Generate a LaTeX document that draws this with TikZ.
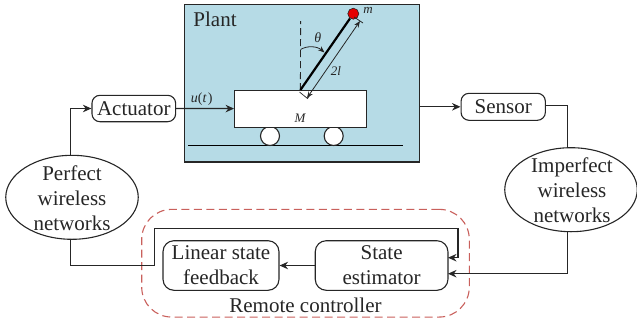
\documentclass[tikz,border=0pt]{standalone}
\usepackage{fontspec}
\setmainfont{Liberation Serif}
\usetikzlibrary{arrows.meta,shapes.geometric,calc}
\definecolor{plantblue}{HTML}{B6DBE6}
\definecolor{ink}{HTML}{262626}
\definecolor{dashred}{HTML}{C9605C}
\tikzset{
  wire/.style={draw=ink,line width=1.2pt},
  arrowed/.style={wire,-{Stealth[length=8.5pt,width=7.5pt]}},
  thin arrow/.style={draw=ink,line width=0.8pt,{Stealth[length=6.5pt,width=5pt]}-{Stealth[length=6.5pt,width=5pt]}},
  roundbox/.style={draw=ink,line width=1.1pt,rounded corners=8pt,inner sep=0pt,fill=white,font=\fontsize{21}{25}\selectfont,align=center,text=ink},
  netw/.style={ellipse,draw=ink,line width=1.1pt,inner sep=0pt,fill=white,minimum width=132.5pt,minimum height=84pt},
  lbl/.style={inner sep=0pt,font=\fontsize{21}{25}\selectfont,align=center,text=ink},
  small/.style={inner sep=0pt,font=\fontsize{13}{15}\selectfont\itshape,text=ink},
  wheel/.style={circle,draw=ink,line width=1.1pt,fill=white,minimum size=19pt,inner sep=0pt},
}
\begin{document}
\begin{tikzpicture}[x=1pt,y=-1pt]
\useasboundingbox (0,0) rectangle (637,325);
% plant
\node[draw=ink,line width=1.1pt,fill=plantblue,minimum width=235pt,minimum height=157.5pt,inner sep=0pt] (plant) at (302,83.2) {};
\node[lbl] (plantlabel) at (215,19) {Plant};
\coordinate (gl) at (188,145.3);
\coordinate (gr) at (403,145.3);
\draw[draw=black,line width=1.1pt] (gl) -- (gr);
\node[wheel] (w1) at (270,136) {};
\node[wheel] (w2) at (333.7,136) {};
\node[draw=ink,line width=1.1pt,fill=white,minimum width=132pt,minimum height=37pt,inner sep=0pt] (cart) at (300.6,108.6) {};
\node[small] (mm) at (300,118.5) {M};
% pendulum
\coordinate (pivot) at (300.4,90);
\coordinate (dtop) at (300.6,21);
\node[circle,draw=ink,line width=0.6pt,fill=red!90!black,minimum size=11pt,inner sep=0pt] (ball) at (353.3,13.7) {};
\draw[draw=ink,line width=0.9pt,dash pattern=on 7pt off 4pt] (pivot) -- (dtop);
\draw[draw=black,line width=2.2pt] (pivot) -- (ball);
\coordinate (a1) at (300.6,49.5);
\coordinate (a2) at (324.5,52.5);
\draw[draw=ink,line width=0.8pt,-{Stealth[length=6.5pt,width=5pt]}] (a1) .. controls (307,45.5) and (317,46) .. (a2);
\node[small,font=\fontsize{14}{16}\selectfont\itshape] (theta) at (317.7,37.7) {θ};
\coordinate (l1) at (307,98);
\coordinate (l2) at (360,21);
\draw[thin arrow] (l1) -- (l2);
\coordinate (t1a) at (299.5,92);
\coordinate (t1b) at (307.5,98.5);
\coordinate (t1c) at (309.5,95.5);
\coordinate (t2a) at (354,17);
\coordinate (t2b) at (363,23);
\draw[draw=ink,line width=0.7pt] (t1a) -- (t1b) -- (t1c);
\draw[draw=ink,line width=0.7pt] (t2a) -- (t2b);
\node[small] (twol) at (336,71) {2l};
\node[small] (mass) at (368,10) {m};
\node[small,font=\fontsize{14}{16}\selectfont] (ut) at (201.7,99) {\textit{u}(\textit{t}\kern1pt)};
% blocks
\node[roundbox,minimum width=83.7pt,minimum height=26.4pt] (act) at (133.8,108.5) {Actuator};
\node[roundbox,minimum width=84.3pt,minimum height=27pt] (sen) at (503.2,106.8) {Sensor};
\node[roundbox,rounded corners=11pt,minimum width=116pt,minimum height=49.6pt] (fb) at (221,265.5) {Linear state\\feedback};
\node[roundbox,rounded corners=11pt,minimum width=132.7pt,minimum height=49.6pt] (est) at (381.6,265.5) {State\\estimator};
\node[netw] (pn) at (72,197.3) {};
\node[lbl] (pnt) at (72,198.3) {Perfect\\wireless\\networks};
\node[netw] (in) at (571,189.7) {};
\node[lbl] (int) at (572,190.5) {Imperfect\\wireless\\networks};
% remote controller
\node[draw=dashred,line width=1.1pt,dash pattern=on 8pt off 4.5pt,rounded corners=30pt,minimum width=327.6pt,minimum height=107.7pt,inner sep=0pt] (rc) at (305.5,263.2) {};
\node[lbl] (rct) at (305.5,305.5) {Remote controller};
% connector way-points
\coordinate (pnN) at (70.7,155.3);
\coordinate (pnS) at (70.7,239.2);
\coordinate (po) at (plant.east |- sen.west);
\coordinate (senE) at (545.3,105.3);
\coordinate (inN) at (567.3,147.8);
\coordinate (inS) at (567.3,231.6);
\coordinate (estLow) at (448,273.7);
\coordinate (estUp) at (448,257.7);
\coordinate (c1) at (154.3,265.7);
\coordinate (c2) at (154.3,228.3);
\coordinate (c3) at (458,228.3);
% connectors
\draw[arrowed] (pnN) |- (act.west);
\draw[arrowed] (act.east) -- (cart.west);
\draw[arrowed] (po) -- (sen.west);
\draw[wire] (senE) -| (inN);
\draw[arrowed] (inS) |- (estLow);
\draw[arrowed] (est.west) -- (fb.east);
\draw[arrowed,rounded corners=0pt] (pnS) |- (c1) -- (c2) -- (c3) |- (estUp);
\end{tikzpicture}
\end{document}
